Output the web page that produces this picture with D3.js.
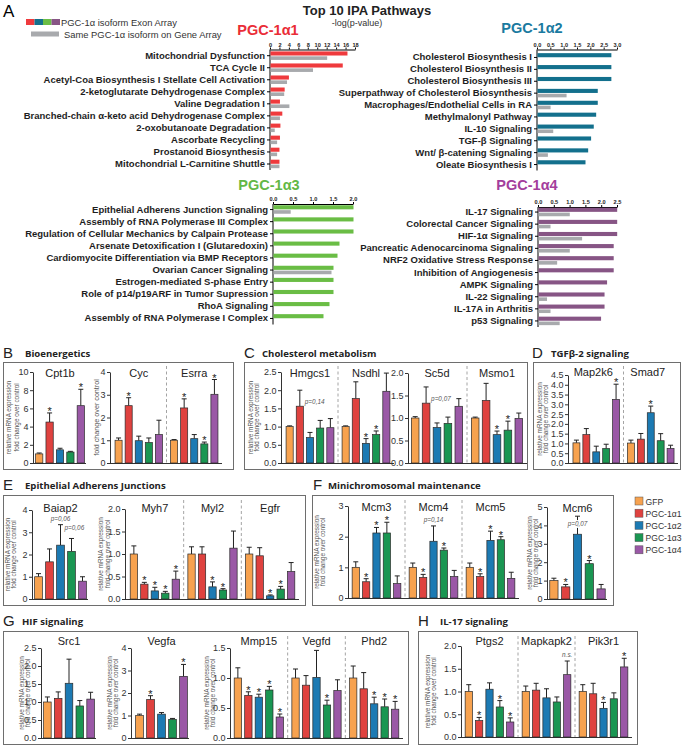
<!DOCTYPE html>
<html>
<head>
<meta charset="utf-8">
<script src="https://cdn.jsdelivr.net/npm/d3@7"></script>
<style>
  body { margin: 0; background: #fff; }
  svg text { font-family: "Liberation Sans", Arial, sans-serif; }
  .head { font-family: "Open Sans", "Liberation Sans", sans-serif !important; font-weight: 700; }
</style>
</head>
<body>
<svg id="chart" width="683" height="745"></svg>
<script>
// ---- Panel A: top 10 IPA pathways, -log(p-value) ----
var a1Pathways = ["Mitochondrial Dysfunction", "TCA Cycle II", "Acetyl-Coa Biosynthesis I Stellate Cell Activation",
  "2-ketoglutarate Dehydrogenase Complex", "Valine Degradation I", "Branched-chain α-keto acid Dehydrogenase Complex",
  "2-oxobutanoate Degradation", "Ascorbate Recycling", "Prostanoid Biosynthesis", "Mitochondrial L-Carnitine Shuttle"];
var a1Exon = [16.3, 15.3, 3.9, 3.0, 2.0, 2.5, 2.1, 2.0, 1.9, 1.9];
var a1Gene = [12.0, 9.0, 3.5, 2.9, 4.0, 2.0, 0.9, 1.4, 1.4, 1.9];

var a2Pathways = ["Cholesterol Biosynthesis I", "Cholesterol Biosynthesis II", "Cholesterol Biosynthesis III",
  "Superpathway of Cholesterol Biosynthesis", "Macrophages/Endothelial Cells in RA", "Methylmalonyl Pathway",
  "IL-10 Signaling", "TGF-β Signaling", "Wnt/ β-catening Signaling", "Oleate Biosynthesis I"];
var a2Exon = [2.77, 2.77, 2.77, 2.26, 2.26, 2.2, 2.11, 2.01, 1.9, 1.8];
var a2Gene = [null, null, null, 1.09, 0.49, null, 0.59, null, 0.39, null];

var a3Pathways = ["Epithelial Adherens Junction Signaling", "Assembly of RNA Polymerase III Complex",
  "Regulation of Cellular Mechanics by Calpain Protease", "Arsenate Detoxification I (Glutaredoxin)",
  "Cardiomyocite Differentiation via BMP Receptors", "Ovarian Cancer Signaling", "Estrogen-mediated S-phase Entry",
  "Role of p14/p19ARF in Tumor Supression", "RhoA Signaling", "Assembly of RNA Polymerase I Complex"];
var a3Exon = [2.0, 2.0, 2.0, 1.65, 1.6, 1.5, 1.5, 1.5, 1.4, 1.25];
var a3Gene = [0.43, null, null, null, null, 1.45, null, null, null, null];

var a4Pathways = ["IL-17 Signaling", "Colorectal Cancer Signaling", "HIF-1α Signaling", "Pancreatic Adenocarcinoma Signaling",
  "NRF2 Oxidative Stress Response", "Inhibition of Angiogenesis", "AMPK Signaling", "IL-22 Signaling",
  "IL-17A in Arthritis", "p53 Signaling"];
var a4Exon = [2.49, 2.49, 2.49, 2.38, 2.38, 2.38, 2.17, 2.09, 2.09, 1.98];
var a4Gene = [0.99, 0.38, 1.38, 0.99, 0.59, null, null, 0.27, 0.38, 0.67];

// ---- Panels B-H: relative mRNA expression (mean, SEM, significance) ----
var isoforms = ["GFP", "PGC-1α1", "PGC-1α2", "PGC-1α3", "PGC-1α4"];

var bGenes = ["Cpt1b", "Cyc", "Esrra"];
var bMeans = [[1.0, 4.5, 1.45, 1.2, 6.3], [1.0, 2.52, 0.98, 0.9, 1.25], [1.0, 2.42, 1.07, 0.84, 3.02]];
var bSems = [[0.1, 1.0, 0.17, 0.08, 1.8], [0.1, 0.35, 0.2, 0.2, 0.63], [0.03, 0.4, 0.18, 0.08, 0.65]];
var bStars = [[0, 1, 0, 0, 1], [0, 1, 0, 0, 0], [0, 1, 0, 1, 1]];

var cGenes = ["Hmgcs1", "Nsdhl", "Sc5d", "Msmo1"];
var cMeans = [[1.0, 1.56, 0.7, 0.96, 0.97], [1.0, 1.77, 0.54, 0.78, 1.97], [1.0, 1.33, 0.79, 0.88, 1.26], [1.0, 1.39, 0.63, 0.73, 0.99]];
var cSems = [[0.02, 0.44, 0.14, 0.21, 0.25], [0.02, 0.46, 0.13, 0.1, 0.5], [0.03, 0.36, 0.1, 0.14, 0.17], [0.02, 0.38, 0.08, 0.2, 0.12]];
var cStars = [[0, 0, 0, 0, 0], [0, 0, 1, 1, 0], [0, 0, 0, 0, 0], [0, 0, 1, 1, 0]];

var dGenes = ["Map2k6", "Smad7"];
var dMeans = [[1.03, 1.45, 0.57, 0.74, 3.25], [1.02, 1.22, 2.57, 1.14, 0.74]];
var dSems = [[0.14, 0.31, 0.29, 0.22, 0.78], [0.15, 0.29, 0.34, 0.36, 0.17]];
var dStars = [[0, 0, 0, 0, 1], [0, 0, 1, 0, 0]];

var eGenes = ["Baiap2", "Myh7", "Myl2", "Egfr"];
var eMeans = [[1.0, 1.67, 2.42, 2.14, 0.8], [1.0, 0.33, 0.18, 0.13, 0.44], [1.0, 1.0, 0.27, 0.2, 1.13], [1.0, 0.96, 0.07, 0.22, 0.61]];
var eSems = [[0.14, 0.58, 0.92, 0.58, 0.2], [0.18, 0.04, 0.08, 0.04, 0.18], [0.16, 0.16, 0.11, 0.03, 0.38], [0.15, 0.18, 0.02, 0.06, 0.2]];
var eStars = [[0, 0, 0, 0, 0], [0, 1, 1, 1, 1], [0, 0, 1, 1, 0], [0, 0, 1, 1, 0]];

var fGenes = ["Mcm3", "Mcm4", "Mcm5", "Mcm6"];
var fMeans = [[1.0, 0.53, 2.12, 2.12, 0.47], [1.0, 0.67, 1.85, 1.56, 0.7], [1.0, 0.7, 1.88, 1.9, 0.64], [1.0, 0.66, 3.52, 1.92, 0.55]];
var fSems = [[0.18, 0.1, 0.18, 0.35, 0.25], [0.14, 0.1, 0.5, 0.07, 0.2], [0.14, 0.09, 0.3, 0.1, 0.2], [0.13, 0.13, 0.98, 0.17, 0.24]];
var fStars = [[0, 1, 1, 1, 0], [0, 1, 0, 1, 0], [0, 1, 1, 1, 0], [0, 1, 0, 1, 0]];

var gGenes = ["Src1", "Vegfa", "Mmp15", "Vegfd", "Phd2"];
var gMeans = [[1.0, 1.1, 1.52, 0.89, 1.08], [1.0, 1.71, 1.06, 0.83, 2.74], [1.0, 0.71, 0.68, 0.8, 0.35], [1.0, 0.88, 1.01, 0.55, 0.79], [1.0, 0.82, 0.57, 0.52, 0.48]];
var gSems = [[0.14, 0.18, 0.67, 0.15, 0.19], [0.06, 0.17, 0.07, 0.04, 0.53], [0.17, 0.06, 0.05, 0.06, 0.05], [0.15, 0.16, 0.45, 0.08, 0.18], [0.2, 0.27, 0.11, 0.13, 0.13]];
var gStars = [[0, 0, 0, 0, 0], [0, 1, 0, 0, 1], [0, 1, 1, 1, 1], [0, 0, 0, 1, 0], [0, 0, 1, 1, 1]];

var hGenes = ["Ptgs2", "Mapkapk2", "Pik3r1"];
var hMeans = [[1.0, 0.36, 1.05, 0.66, 0.33], [1.0, 1.03, 0.86, 0.77, 1.37], [1.0, 0.95, 0.63, 0.84, 1.54]];
var hSems = [[0.15, 0.07, 0.14, 0.14, 0.09], [0.12, 0.15, 0.2, 0.11, 0.3], [0.15, 0.23, 0.13, 0.13, 0.19]];
var hStars = [[0, 1, 0, 1, 1], [0, 0, 0, 0, 0], [0, 0, 1, 0, 1]];

// p-value / n.s. annotations: gene, isoform index, text, placement
var notes = [
  ["Hmgcs1", 1, "p=0,14", "right"], ["Sc5d", 1, "p=0,07", "right"],
  ["Baiap2", 2, "p=0,06", "above"], ["Baiap2", 2, "p=0,06", "cap"],
  ["Mcm4", 2, "p=0,14", "above"], ["Mcm6", 2, "p=0,07", "onbar"],
  ["Mapkapk2", 4, "n.s.", "above"]
];

var yLabelLines = ["relative mRNA expression", "fold change over control"];

// ---- styles ----
var barColors = ["#f7a24f", "#df423f", "#1c7ab3", "#1a9652", "#9a58a6"];
var svg = d3.select("#chart");

// ================= Panel A =================
svg.append("text").attr("x", 3).attr("y", 17).attr("font-size", 17).text("A");
svg.append("text").attr("x", 367).attr("y", 15).attr("text-anchor", "middle")
  .attr("font-size", 13).attr("font-weight", "bold").attr("fill", "#222").text("Top 10 IPA Pathways");
svg.append("text").attr("x", 357).attr("y", 26).attr("text-anchor", "middle")
  .attr("font-size", 9).attr("fill", "#333").text("-log(p-value)");

// legend for A
["#ef3a3d", "#13708d", "#6abd45", "#875585"].forEach(function(c, i) {
  svg.append("rect").attr("x", 26 + i * 8.5).attr("y", 19).attr("width", 8.5).attr("height", 6).attr("fill", c);
});
svg.append("text").attr("x", 61).attr("y", 25.5).attr("font-size", 9.4).attr("fill", "#333").text("PGC-1α isoform Exon Array");
svg.append("rect").attr("x", 31).attr("y", 31.5).attr("width", 28).attr("height", 5).attr("fill", "#a8aaad");
svg.append("text").attr("x", 64).attr("y", 37.5).attr("font-size", 9.4).attr("fill", "#333").text("Same PGC-1α isoform on Gene Array");

function drawPathways(cfg, names, exon, gene) {
  var x = d3.scaleLinear().domain([0, cfg.max]).range([cfg.x0, cfg.x0 + cfg.w]);
  var y = d3.scaleBand().domain(names).range([cfg.rowTop, cfg.rowBottom]);

  svg.append("text").attr("x", cfg.titleX).attr("y", cfg.titleY).attr("text-anchor", "middle")
    .attr("font-size", 14.5).attr("font-weight", "bold").attr("fill", cfg.titleColor).text(cfg.title);

  var top = svg.append("g").attr("transform", "translate(0," + cfg.axisY + ")")
    .call(d3.axisTop(x).tickValues(d3.range(0, cfg.max + 1e-9, cfg.step)).tickFormat(d3.format(cfg.fmt))
      .tickSize(2).tickSizeOuter(0).tickPadding(1));
  top.selectAll("text").attr("font-size", 5.6).attr("font-weight", "bold").attr("fill", "#222");

  var left = svg.append("g").attr("transform", "translate(" + cfg.x0 + ",0)")
    .call(d3.axisLeft(y).tickSize(3).tickSizeOuter(0).tickPadding(2));
  left.select(".domain").remove();
  left.selectAll("text").attr("font-size", 9.5).attr("font-weight", "bold").attr("fill", "#1e1e1e")
    .attr("font-family", "'Liberation Sans', Arial, sans-serif");
  svg.append("line").attr("x1", cfg.x0).attr("x2", cfg.x0).attr("y1", cfg.axisY).attr("y2", cfg.rowBottom)
    .attr("stroke", "#000").attr("stroke-width", 1);

  var mid = function(d) { return y(d) + y.bandwidth() / 2; };
  svg.append("g").selectAll("rect").data(names).join("rect")
    .attr("x", cfg.x0 + 0.5).attr("y", function(d) { return mid(d) - 4.3; })
    .attr("width", function(d, i) { return x(exon[i]) - cfg.x0; }).attr("height", 4.1)
    .attr("fill", cfg.barColor);
  svg.append("g").selectAll("rect").data(names.filter(function(d, i) { return gene[i] != null; })).join("rect")
    .attr("x", cfg.x0 + 0.5).attr("y", function(d) { return mid(d) + 0.6; })
    .attr("width", function(d) { return x(gene[names.indexOf(d)]) - cfg.x0; }).attr("height", 3.6)
    .attr("fill", "#a8aaad");
}

drawPathways({title: "PGC-1α1", titleX: 268, titleY: 35, titleColor: "#ea2d37", barColor: "#ef3a3d",
  max: 18, step: 2, fmt: "d", x0: 270, w: 85, axisY: 49.5, rowTop: 49.7, rowBottom: 170}, a1Pathways, a1Exon, a1Gene);
drawPathways({title: "PGC-1α2", titleX: 532, titleY: 33, titleColor: "#1a7aa0", barColor: "#13708d",
  max: 3, step: 0.5, fmt: ".1f", x0: 537, w: 80, axisY: 49.5, rowTop: 51.5, rowBottom: 170.5}, a2Pathways, a2Exon, a2Gene);
drawPathways({title: "PGC-1α3", titleX: 269, titleY: 190, titleColor: "#62b846", barColor: "#6abd45",
  max: 2, step: 0.5, fmt: ".1f", x0: 273, w: 80, axisY: 204, rowTop: 203.5, rowBottom: 324.5}, a3Pathways, a3Exon, a3Gene);
drawPathways({title: "PGC-1α4", titleX: 527, titleY: 190, titleColor: "#a33e9c", barColor: "#875585",
  max: 2.5, step: 0.5, fmt: ".1f", x0: 538, w: 79, axisY: 207, rowTop: 206, rowBottom: 327}, a4Pathways, a4Exon, a4Gene);

// ================= Panels B-H =================
var rowsByGene = new Map();
function addGenes(genes, means, sems, stars) {
  genes.forEach(function(g, i) {
    rowsByGene.set(g, isoforms.map(function(iso, j) {
      return {gene: g, iso: iso, idx: j, mean: means[i][j], sem: sems[i][j], star: stars[i][j]};
    }));
  });
}
addGenes(bGenes, bMeans, bSems, bStars);
addGenes(cGenes, cMeans, cSems, cStars);
addGenes(dGenes, dMeans, dSems, dStars);
addGenes(eGenes, eMeans, eSems, eStars);
addGenes(fGenes, fMeans, fSems, fStars);
addGenes(gGenes, gMeans, gSems, gStars);
addGenes(hGenes, hMeans, hSems, hStars);

function heading(letter, title, lx, tx, y) {
  svg.append("text").attr("x", lx).attr("y", y + 1).attr("font-size", 15).attr("fill", "#222").text(letter);
  svg.append("text").attr("class", "head").attr("x", tx).attr("y", y).attr("font-size", 9.6).attr("fill", "#222").text(title);
}
function box(x, y, w, h) {
  svg.append("rect").attr("x", x + 0.5).attr("y", y + 0.5).attr("width", w).attr("height", h)
    .attr("fill", "none").attr("stroke", "#6e6e6e").attr("stroke-width", 1);
}

heading("B", "Bioenergetics", 3, 25, 357);     box(3, 362, 230, 107);
heading("C", "Cholesterol metabolism", 244, 262, 357); box(244, 362, 283, 107);
heading("D", "TGFβ-2 signaling", 532, 551, 357); box(533, 362, 147, 107);
heading("E", "Epithelial Adherens Junctions", 3, 25, 489); box(3, 495, 302, 110);
heading("F", "Minichromosomal maintenance", 313, 328, 489); box(312, 495, 301, 110);
heading("G", "HIF signaling", 3, 22, 625); box(3, 631, 405, 113);
heading("H", "IL-17 signaling", 418, 440, 625); box(418, 631, 219, 113);

function drawSub(cfg) {
  var y = d3.scaleLinear().domain([0, cfg.max]).range([cfg.y0, cfg.y1]);
  var xg = d3.scaleBand().domain(cfg.genes).range(cfg.x);
  var xi = d3.scaleBand().domain(isoforms).range([0, xg.bandwidth()]).paddingInner(0.3).paddingOuter(cfg.pad);
  var g = svg.append("g");

  // dashed separators between genes sharing one axis
  cfg.genes.slice(1).forEach(function(gn) {
    g.append("line").attr("x1", xg(gn)).attr("x2", xg(gn)).attr("y1", cfg.sepTop).attr("y2", cfg.y0)
      .attr("stroke", "#9a9a9a").attr("stroke-width", 0.9).attr("stroke-dasharray", "3,2.5");
  });

  // baseline
  g.append("line").attr("x1", cfg.axisX).attr("x2", cfg.x[1]).attr("y1", cfg.y0 + 0.5).attr("y2", cfg.y0 + 0.5)
    .attr("stroke", "#333").attr("stroke-width", 1);

  var ax = g.append("g").attr("transform", "translate(" + cfg.axisX + ",0)")
    .call(d3.axisLeft(y).tickValues(d3.range(0, cfg.max + 1e-9, cfg.step)).tickFormat(d3.format(cfg.fmt))
      .tickSize(3).tickSizeOuter(0).tickPadding(1.5));
  ax.selectAll("text").attr("font-size", 9).attr("fill", "#333");
  ax.selectAll("line, path").attr("stroke", "#333");

  // y label(s)
  var ym = (cfg.y0 + cfg.y1) / 2;
  cfg.ylab.forEach(function(dx, i) {
    if (dx == null) return;
    var single = cfg.ylab[0] == null;
    g.append("text").attr("transform", "translate(" + (cfg.axisX + dx) + "," + ym + ") rotate(-90)")
      .attr("text-anchor", "middle").attr("dy", "0.35em")
      .attr("font-size", single ? 7.2 : 6.4).attr("fill", "#555").text(yLabelLines[i]);
  });

  cfg.genes.forEach(function(gn) {
    var rows = rowsByGene.get(gn);
    var gx = xg(gn);
    g.append("text").attr("x", gx + xg.bandwidth() / 2 + (cfg.titleDx || 0)).attr("y", cfg.titleY).attr("text-anchor", "middle")
      .attr("font-size", 11).attr("fill", "#222").text(gn);

    var cx = function(d) { return gx + xi(d.iso) + xi.bandwidth() / 2; };
    // error bars
    g.append("g").selectAll("line").data(rows).join("line")
      .attr("x1", cx).attr("x2", cx).attr("y1", function(d) { return y(d.mean); })
      .attr("y2", function(d) { return y(d.mean + d.sem); }).attr("stroke", "#222").attr("stroke-width", 1);
    g.append("g").selectAll("line").data(rows).join("line")
      .attr("x1", function(d) { return cx(d) - 2.5; }).attr("x2", function(d) { return cx(d) + 2.5; })
      .attr("y1", function(d) { return y(d.mean + d.sem); }).attr("y2", function(d) { return y(d.mean + d.sem); })
      .attr("stroke", "#222").attr("stroke-width", 1);
    // bars
    g.append("g").selectAll("rect").data(rows).join("rect")
      .attr("x", function(d) { return gx + xi(d.iso); }).attr("width", xi.bandwidth())
      .attr("y", function(d) { return y(d.mean); }).attr("height", function(d) { return cfg.y0 - y(d.mean); })
      .attr("fill", function(d) { return barColors[d.idx]; }).attr("stroke", "#2a2a2a").attr("stroke-width", 0.7);
    // significance
    g.append("g").selectAll("text").data(rows.filter(function(d) { return d.star; })).join("text")
      .attr("x", cx).attr("y", function(d) { return y(d.mean + d.sem) + 2; }).attr("text-anchor", "middle")
      .attr("font-size", 11).attr("fill", "#222").text("*");

    notes.filter(function(n) { return n[0] === gn; }).forEach(function(n) {
      var d = rows[n[1]];
      var t = g.append("text").attr("font-size", 6.4).attr("font-style", "italic").attr("fill", "#555").text(n[2]);
      var topY = y(d.mean + d.sem);
      if (n[3] === "right") t.attr("x", cx(d) + 5).attr("y", y(d.mean + d.sem * 0.3) + 3);
      if (n[3] === "above") t.attr("x", cx(d)).attr("y", topY - 4).attr("text-anchor", "middle");
      if (n[3] === "cap") t.attr("x", cx(d) + 4).attr("y", topY + 5);
      if (n[3] === "onbar") t.attr("x", cx(d)).attr("y", y(d.mean + d.sem * 0.55) + 2).attr("text-anchor", "middle")
        .attr("stroke", "#fff").attr("stroke-width", 2).attr("paint-order", "stroke");
    });
  });
}

var subcharts = [
  {genes: ["Cpt1b"], x: [34, 86], pad: 0.15, axisX: 33, y0: 463, y1: 372, max: 10, step: 2, fmt: "d", ylab: [-24, -16], titleY: 377, sepTop: 366},
  {genes: ["Cyc", "Esrra"], x: [111, 222], pad: 0.4, axisX: 110, y0: 463, y1: 372, max: 4, step: 1, fmt: "d", ylab: [null, -14], titleY: 377, sepTop: 366},
  {genes: ["Hmgcs1", "Nsdhl"], x: [282, 394], pad: 0.4, axisX: 281, y0: 463, y1: 372, max: 2.5, step: 0.5, fmt: ".1f", ylab: [-30, -24], titleY: 377, sepTop: 366},
  {genes: ["Sc5d", "Msmo1"], x: [407, 527], pad: 0.4, axisX: 408, y0: 463, y1: 373, max: 2, step: 0.5, fmt: ".1f", ylab: [], titleY: 377, sepTop: 366},
  {genes: ["Map2k6", "Smad7"], x: [569, 678], pad: 0.4, axisX: 568, y0: 463, y1: 375, max: 4.5, step: 0.5, fmt: ".1f", ylab: [-28, -22], titleY: 376, titleDx: -3, sepTop: 366},
  {genes: ["Baiap2"], x: [33, 88], pad: 0.15, axisX: 32, y0: 599, y1: 510, max: 4, step: 1, fmt: "d", ylab: [-24, -18], titleY: 512, sepTop: 500},
  {genes: ["Myh7", "Myl2", "Egfr"], x: [126, 299], pad: 0.4, axisX: 125, y0: 599, y1: 509, max: 2, step: 0.5, fmt: ".1f", ylab: [-24, -17], titleY: 512, sepTop: 500},
  {genes: ["Mcm3", "Mcm4", "Mcm5"], x: [348, 519], pad: 0.4, axisX: 348, y0: 598, y1: 506, max: 3, step: 1, fmt: "d", ylab: [-31, -25], titleY: 511, sepTop: 500},
  {genes: ["Mcm6"], x: [548, 607], pad: 0.15, axisX: 547, y0: 599, y1: 507, max: 5, step: 1, fmt: "d", ylab: [-17, -11], titleY: 512, sepTop: 500},
  {genes: ["Src1"], x: [42, 96], pad: 0.15, axisX: 41, y0: 738, y1: 648, max: 2.5, step: 0.5, fmt: ".1f", ylab: [-19, -13], titleY: 645, sepTop: 636},
  {genes: ["Vegfa"], x: [134, 189], pad: 0.15, axisX: 131, y0: 738, y1: 648, max: 4, step: 1, fmt: "d", ylab: [-21, -15], titleY: 645, sepTop: 636},
  {genes: ["Mmp15", "Vegfd", "Phd2"], x: [230, 403], pad: 0.4, axisX: 230, y0: 738, y1: 648, max: 1.5, step: 0.5, fmt: ".1f", ylab: [-23, -17], titleY: 645, sepTop: 636},
  {genes: ["Ptgs2", "Mapkapk2", "Pik3r1"], x: [461, 632], pad: 0.4, axisX: 461, y0: 737, y1: 646, max: 2, step: 0.5, fmt: ".1f", ylab: [-33, -27], titleY: 645, sepTop: 636}
];
subcharts.forEach(drawSub);

// isoform legend (bottom right)
var leg = svg.append("g").attr("transform", "translate(635,497)");
leg.selectAll("rect").data(isoforms).join("rect")
  .attr("x", 0).attr("y", function(d, i) { return i * 12.2; }).attr("width", 8).attr("height", 8)
  .attr("fill", function(d, i) { return barColors[i]; }).attr("stroke", "#555").attr("stroke-width", 0.5);
leg.selectAll("text").data(isoforms).join("text")
  .attr("x", 10.5).attr("y", function(d, i) { return i * 12.2 + 7.5; })
  .attr("font-size", 8.6).attr("fill", "#333").text(function(d) { return d; });
</script>
</body>
</html>
